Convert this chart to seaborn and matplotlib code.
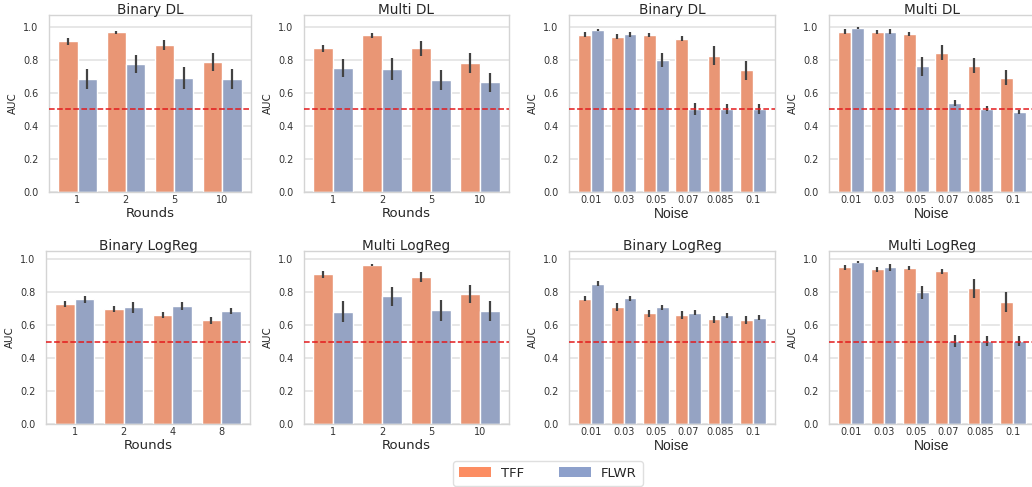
import numpy as np
import pandas as pd
import matplotlib
matplotlib.use("Agg")
import matplotlib.pyplot as plt
import seaborn as sns
from matplotlib.patches import Patch

# ---------------- data ----------------
frameworks = ["TFF", "FLWR"]
rounds_a = ["1", "2", "5", "10"]
rounds_b = ["1", "2", "4", "8"]
noise = ["0.01", "0.03", "0.05", "0.07", "0.085", "0.1"]

titles = ["Binary DL", "Multi DL", "Binary DL", "Multi DL",
          "Binary LogReg", "Multi LogReg", "Binary LogReg", "Multi LogReg"]

bin_dl_rounds_tff = [0.910, 0.965, 0.890, 0.785]
bin_dl_rounds_tff_err = [0.022, 0.007, 0.030, 0.055]
bin_dl_rounds_flwr = [0.682, 0.775, 0.690, 0.682]
bin_dl_rounds_flwr_err = [0.062, 0.055, 0.065, 0.062]

multi_dl_rounds_tff = [0.869, 0.948, 0.869, 0.779]
multi_dl_rounds_tff_err = [0.022, 0.015, 0.044, 0.060]
multi_dl_rounds_flwr = [0.749, 0.742, 0.678, 0.664]
multi_dl_rounds_flwr_err = [0.054, 0.066, 0.062, 0.058]

bin_dl_noise_tff = [0.952, 0.940, 0.950, 0.926, 0.823, 0.736]
bin_dl_noise_tff_err = [0.014, 0.014, 0.012, 0.015, 0.058, 0.058]
bin_dl_noise_flwr = [0.980, 0.954, 0.799, 0.503, 0.503, 0.503]
bin_dl_noise_flwr_err = [0.007, 0.016, 0.043, 0.036, 0.030, 0.030]

multi_dl_noise_tff = [0.970, 0.968, 0.954, 0.843, 0.763, 0.692]
multi_dl_noise_tff_err = [0.013, 0.013, 0.013, 0.046, 0.045, 0.048]
multi_dl_noise_flwr = [0.992, 0.968, 0.761, 0.537, 0.503, 0.485]
multi_dl_noise_flwr_err = [0.004, 0.015, 0.057, 0.020, 0.015, 0.012]

bin_lr_rounds_tff = [0.728, 0.698, 0.663, 0.629]
bin_lr_rounds_tff_err = [0.018, 0.021, 0.019, 0.020]
bin_lr_rounds_flwr = [0.756, 0.708, 0.716, 0.685]
bin_lr_rounds_flwr_err = [0.021, 0.033, 0.026, 0.020]

multi_lr_rounds_tff = [0.909, 0.966, 0.891, 0.788]
multi_lr_rounds_tff_err = [0.022, 0.006, 0.030, 0.055]
multi_lr_rounds_flwr = [0.681, 0.776, 0.690, 0.685]
multi_lr_rounds_flwr_err = [0.063, 0.058, 0.062, 0.060]

bin_lr_noise_tff = [0.760, 0.710, 0.671, 0.663, 0.635, 0.631]
bin_lr_noise_tff_err = [0.016, 0.025, 0.022, 0.024, 0.021, 0.026]
bin_lr_noise_flwr = [0.851, 0.762, 0.708, 0.675, 0.659, 0.645]
bin_lr_noise_flwr_err = [0.014, 0.017, 0.017, 0.015, 0.013, 0.014]

multi_lr_noise_tff = [0.952, 0.940, 0.948, 0.927, 0.825, 0.738]
multi_lr_noise_tff_err = [0.015, 0.015, 0.012, 0.015, 0.058, 0.061]
multi_lr_noise_flwr = [0.982, 0.952, 0.800, 0.504, 0.504, 0.504]
multi_lr_noise_flwr_err = [0.006, 0.022, 0.040, 0.036, 0.031, 0.032]

panels = [
    (rounds_a, "Rounds", bin_dl_rounds_tff, bin_dl_rounds_tff_err, bin_dl_rounds_flwr, bin_dl_rounds_flwr_err),
    (rounds_a, "Rounds", multi_dl_rounds_tff, multi_dl_rounds_tff_err, multi_dl_rounds_flwr, multi_dl_rounds_flwr_err),
    (noise, "Noise", bin_dl_noise_tff, bin_dl_noise_tff_err, bin_dl_noise_flwr, bin_dl_noise_flwr_err),
    (noise, "Noise", multi_dl_noise_tff, multi_dl_noise_tff_err, multi_dl_noise_flwr, multi_dl_noise_flwr_err),
    (rounds_b, "Rounds", bin_lr_rounds_tff, bin_lr_rounds_tff_err, bin_lr_rounds_flwr, bin_lr_rounds_flwr_err),
    (rounds_a, "Rounds", multi_lr_rounds_tff, multi_lr_rounds_tff_err, multi_lr_rounds_flwr, multi_lr_rounds_flwr_err),
    (noise, "Noise", bin_lr_noise_tff, bin_lr_noise_tff_err, bin_lr_noise_flwr, bin_lr_noise_flwr_err),
    (noise, "Noise", multi_lr_noise_tff, multi_lr_noise_tff_err, multi_lr_noise_flwr, multi_lr_noise_flwr_err),
]

# ---------------- style ----------------
sns.set_theme(style="whitegrid")
plt.rcParams["font.family"] = ["DejaVu Sans"]
palette = {"TFF": "#fc8d62", "FLWR": "#8da0cb"}

W, H = 1032, 487
fig = plt.figure(figsize=(W / 100, H / 100), dpi=100)

# axes boxes in pixels: (left, right, top, bottom)
boxes = [
    (49, 251, 15, 192), (304, 509, 15, 192), (569, 775, 15, 192), (829, 1035, 15, 192),
    (46, 250, 251, 424), (304, 509, 251, 424), (569, 775, 251, 424), (829, 1035, 251, 424),
]
ytops = [1.07] * 4 + [1.05] * 4

for i, (cats, xlab, tff, tff_e, flwr, flwr_e) in enumerate(panels):
    l, r, t, b = boxes[i]
    ax = fig.add_axes([l / W, 1 - b / H, (r - l) / W, (b - t) / H])
    df = pd.DataFrame({
        "cat": list(cats) * 2,
        "AUC": list(tff) + list(flwr),
        "fw": ["TFF"] * len(cats) + ["FLWR"] * len(cats),
    })
    sns.barplot(data=df, x="cat", y="AUC", hue="fw", order=cats, hue_order=frameworks,
                palette=palette, errorbar=None, ax=ax, legend=False, width=0.8)
    for cont, errs, means in zip(ax.containers, [tff_e, flwr_e], [tff, flwr]):
        xs = [bar.get_x() + bar.get_width() / 2 for bar in cont]
        lo = [m - e for m, e in zip(means, errs)]
        hi = [m + e for m, e in zip(means, errs)]
        ax.vlines(xs, lo, hi, color=".26", lw=1.6, zorder=5)
    ax.axhline(0.5, color="#e31a1c", ls="--", lw=1.1, zorder=6)
    ax.set_ylim(0, ytops[i])
    ax.set_yticks([0, 0.2, 0.4, 0.6, 0.8, 1.0])
    ax.set_yticklabels(["0.0", "0.2", "0.4", "0.6", "0.8", "1.0"])
    ax.tick_params(axis="both", labelsize=7.0, colors="#333333", length=0)
    ax.tick_params(axis="x", pad=2.5)
    ax.tick_params(axis="y", pad=7.5)
    ax.set_title(titles[i], fontsize=9.8, pad=0.8)
    ax.set_ylabel("AUC", fontsize=7.4, labelpad=4)
    if xlab == "Noise":
        ax.set_xlabel(xlab, fontsize=10, family=["Liberation Sans"], labelpad=1)
    else:
        ax.set_xlabel(xlab, fontsize=9.5, labelpad=1)
    for s in ax.spines.values():
        s.set_color("#d4d4d4")
        s.set_linewidth(1.0)
    ax.grid(axis="y", color="#e3e3e3", lw=1.2)

handles = [Patch(facecolor=palette[f], edgecolor="none", label=f) for f in frameworks]
fig.legend(handles=handles, loc="upper center", bbox_to_anchor=(548 / W, 1 - 461 / H),
           ncol=2, fontsize=9.5, frameon=True, handlelength=2.4, handleheight=0.8,
           handletextpad=0.8, columnspacing=2.6, edgecolor="#d8d8d8", borderpad=0.45,
           borderaxespad=0)

fig.savefig("out.png", dpi=100)
